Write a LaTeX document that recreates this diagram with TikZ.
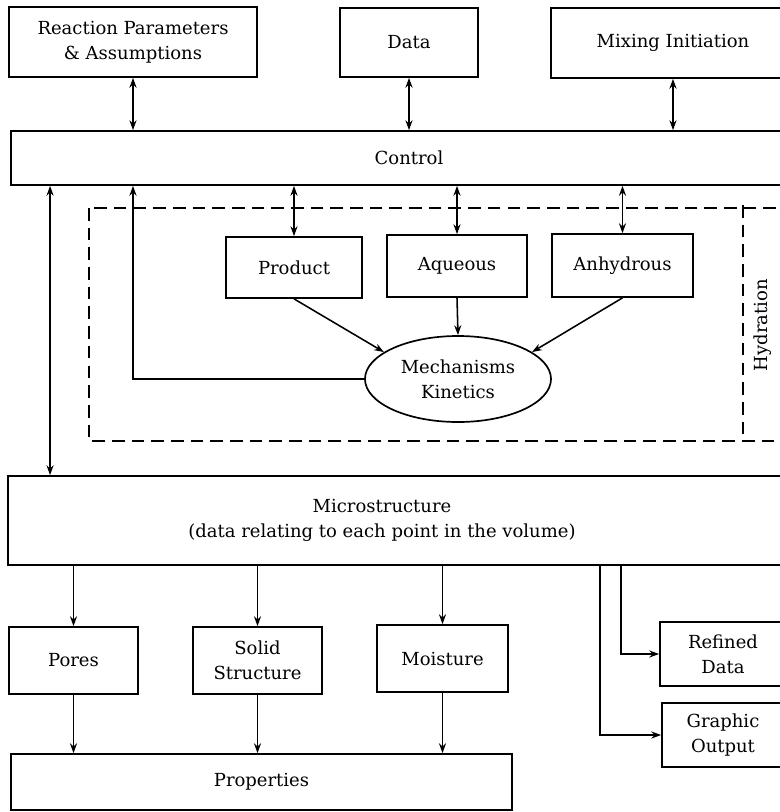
\documentclass[tikz,border=0pt]{standalone}
\usepackage{fontspec}
\setmainfont{DejaVu Serif}
\usepackage{tikz}
\usetikzlibrary{shapes,arrows,arrows.meta,positioning}

\begin{document}
\begin{tikzpicture}[
    x=0.025cm, y=-0.025cm,
    every node/.style={font={\fontsize{12.8}{18}\selectfont}},
    box/.style={rectangle, draw, line width=1.2pt, align=center, inner sep=0pt},
    frame/.style={dashed, line width=1.2pt, dash pattern=on 9pt off 5pt},
    arrow/.style={-{Stealth[length=7pt,width=5pt]}, line width=1.1pt},
    twoway/.style={{Stealth[length=7pt,width=5pt]}-{Stealth[length=7pt,width=5pt]}, line width=1.1pt}
]
\clip (0,0) rectangle (780,812);

% Nodes
\node[box, minimum width=6.2cm, minimum height=1.75cm] (params) at (133,42) {Reaction Parameters\\\& Assumptions};
\node[box, minimum width=3.45cm, minimum height=1.725cm] (data) at (409,42.5) {Data};
\node[box, minimum width=6.1cm, minimum height=1.75cm] (mixing) at (673,43) {Mixing Initiation};
\node[box, minimum width=19.9cm, minimum height=1.35cm] (control) at (409,158) {Control};

\node[box, minimum width=3.4cm, minimum height=1.525cm] (product) at (294,267.5) {Product};
\node[box, minimum width=3.5cm, minimum height=1.55cm] (aqueous) at (457,266) {Aqueous};
\node[box, minimum width=3.525cm, minimum height=1.575cm] (anhydrous) at (622.5,265.5) {Anhydrous};
\node[ellipse, draw, line width=1.2pt, align=center, inner sep=0pt, minimum width=4.65cm, minimum height=2.15cm] (mech) at (458,379) {Mechanisms\\Kinetics};
\node[rotate=90] (hydration) at (763,325) {Hydration};

\node[box, minimum width=19.8cm, minimum height=2.225cm,
      label={[xshift=-0.55cm, align=center]center:Microstructure\\(data relating to each point in the volume)}] (micro) at (404,520.5) {};

\node[box, minimum width=3.225cm, minimum height=1.675cm] (pores) at (73.5,660.5) {Pores};
\node[box, minimum width=3.225cm, minimum height=1.675cm] (solid) at (257.5,660.5) {Solid\\Structure};
\node[box, minimum width=3.275cm, minimum height=1.675cm] (moisture) at (442.5,658.5) {Moisture};
\node[box, minimum width=3.15cm, minimum height=1.6cm] (refined) at (723,654) {Refined\\Data};
\node[box, minimum width=3.05cm, minimum height=1.6cm] (graphic) at (723,735) {Graphic\\Output};
\node[box, minimum width=12.525cm, minimum height=1.4cm] (properties) at (261.5,782) {Properties};

\coordinate (tapa) at (600,565);
\coordinate (tapb) at (621,565);

% Hydration group
\draw[frame] (89,208) rectangle (800,441);
\draw[frame] (743,205) -- (743,441);

% Arrows
\draw[twoway] (params.south) -- (params.south |- control.north);
\draw[twoway] (data.south) -- (data.south |- control.north);
\draw[twoway] (mixing.south) -- (mixing.south |- control.north);
\draw[twoway] ([xshift=1cm]control.south west) -- ([xshift=1cm]control.south west |- micro.north);
\draw[twoway] (product.north |- control.south) -- (product.north);
\draw[twoway] (aqueous.north |- control.south) -- (aqueous.north);
\draw[twoway] (anhydrous.north |- control.south) -- (anhydrous.north);

\draw[arrow] (product.south) -- (mech.160);
\draw[arrow] (aqueous.south) -- (mech.north);
\draw[arrow] (anhydrous.south) -- (mech.20);
\draw[arrow] (mech.west) -| (params.south |- control.south);

\draw[arrow] (pores.north |- micro.south) -- (pores.north);
\draw[arrow] (solid.north |- micro.south) -- (solid.north);
\draw[arrow] (moisture.north |- micro.south) -- (moisture.north);
\draw[arrow] (tapb) |- (refined.west);
\draw[arrow] (tapa) |- (graphic.west);

\draw[arrow] (pores.south) -- (pores.south |- properties.north);
\draw[arrow] (solid.south) -- (solid.south |- properties.north);
\draw[arrow] (moisture.south) -- (moisture.south |- properties.north);
\end{tikzpicture}
\end{document}
